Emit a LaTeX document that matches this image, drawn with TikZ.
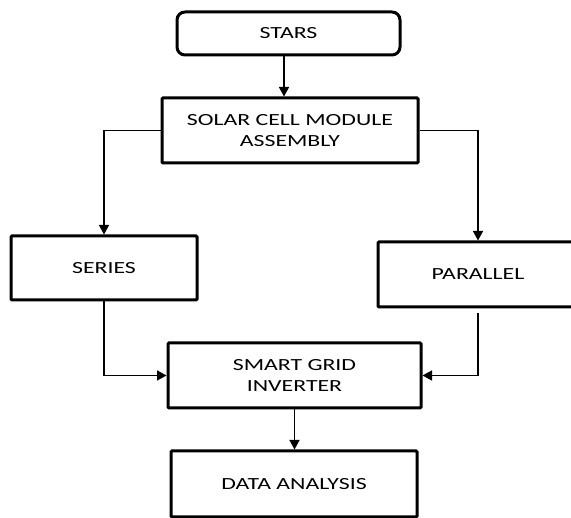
\documentclass[tikz,border=0pt]{standalone}
\usepackage{fontspec}
\setmainfont[FakeStretch=1.4]{Carlito}
\usetikzlibrary{arrows.meta}

\begin{document}
\begin{tikzpicture}[x=1pt, y=1pt, >={Triangle[length=9.5pt, width=10pt]},
  block/.style={draw, line width=3pt, rounded corners=1pt, align=center, inner sep=0pt,
    font=\fontsize{17}{21.5}\selectfont},
  link/.style={->, line width=1.5pt}]
\useasboundingbox (0,0) rectangle (571,518);
\node[block, rounded corners=8pt, minimum width=223pt, minimum height=43pt] (STARS) at (288.5,484.5) {STARS};
\node[block, minimum width=256pt, minimum height=65pt] (SOLAR) at (290,387.5) {SOLAR CELL MODULE\\ASSEMBLY};
\node[block, minimum width=186pt, minimum height=64pt] (SERIES) at (104,250) {SERIES};
\node[block, minimum width=200pt, minimum height=65pt] (PARALLEL) at (478,243.5) {PARALLEL};
\node[block, minimum width=253pt, minimum height=65pt] (SMART) at (294.5,142.5) {SMART GRID\\INVERTER};
\node[block, minimum width=246pt, minimum height=66pt] (DATA) at (294,34) {DATA ANALYSIS};
\draw[link] ([xshift=-4.5pt]STARS.south) -- ([xshift=-4.5pt]STARS.south |- SOLAR.north);
\draw[link] (SOLAR.west) -| (SERIES.north);
\draw[link] (SOLAR.east) -| (PARALLEL.north);
\draw[link] (SERIES.south) |- (SMART.west);
\draw[link] ([yshift=-5pt]PARALLEL.south) |- (SMART.east);
\draw[link] (SMART.south) -- (SMART.south |- DATA.north);
\end{tikzpicture}
\end{document}
